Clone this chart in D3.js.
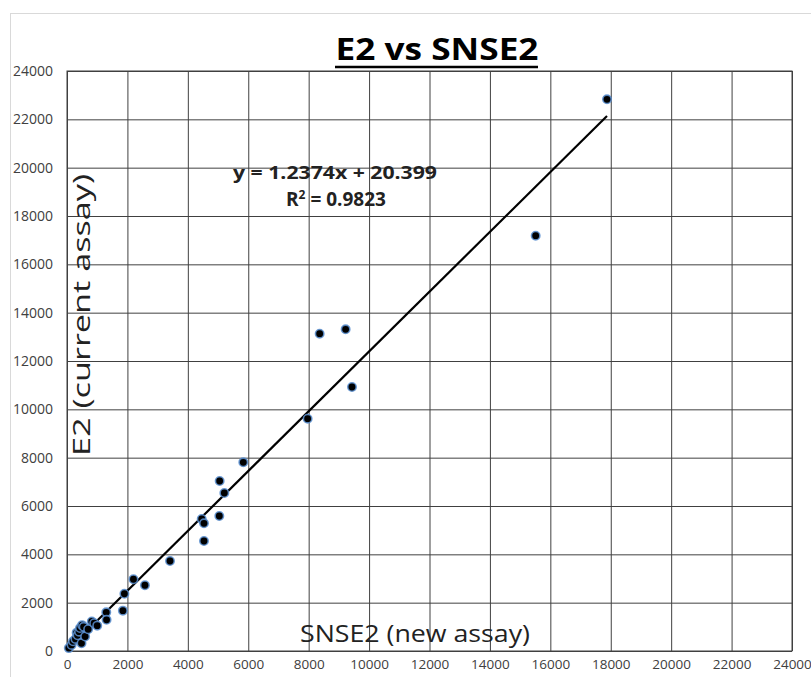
<!DOCTYPE html>
<html><head><meta charset="utf-8">
<script src="https://cdn.jsdelivr.net/npm/d3@7"></script>
<style>body{margin:0;background:#fff}svg{display:block}</style>
</head><body>
<script>
const snse2 = [60,150,200,280,320,350,400,430,480,500,550,600,700,820,900,1000,1300,1310,1850,1900,2200,2580,3410,4460,4535,4535,5042,5054,5208,5836,7966,8364,9224,9434,15515,17876];
const e2    = [120,250,400,500,760,650,800,950,320,1070,1000,600,900,1220,1150,1050,1600,1290,1670,2370,2970,2720,3724,5462,5284,4552,5586,7034,6538,7809,9612,13131,13311,10924,17185,22829];
const xTicks = [0,2000,4000,6000,8000,10000,12000,14000,16000,18000,20000,22000,24000];
const yTicks = [0,2000,4000,6000,8000,10000,12000,14000,16000,18000,20000,22000,24000];
const slope = 1.2374, intercept = 20.399;
const titleText = "E2 vs SNSE2";
const xTitle = "SNSE2 (new assay)";
const yTitle = "E2 (current assay)";
const eqText = "y = 1.2374x + 20.399";

const W = 811, H = 677;
const m = {left:67, top:71, right:19, bottom:26};
const svg = d3.select("body").append("svg").attr("width",W).attr("height",H);
svg.append("rect").attr("x",10.5).attr("y",13.5).attr("width",W).attr("height",H)
  .attr("fill","#fff").attr("stroke","#d9d9d9");

const x = d3.scaleLinear().domain([0,24000]).range([m.left, W-m.right]);
const y = d3.scaleLinear().domain([0,24000]).range([H-m.bottom, m.top]);
const font = "'Open Sans', sans-serif";

// grid
svg.append("g").attr("transform",`translate(0,${H-m.bottom})`)
  .call(d3.axisBottom(x).tickValues(xTicks).tickSize(-(H-m.bottom-m.top)).tickFormat(d3.format("d")).tickPadding(8))
  .call(g=>{g.select(".domain").remove();
    g.selectAll(".tick line").attr("stroke","#404040");
    g.selectAll(".tick text").attr("font-family",font).attr("font-size",13.5).attr("fill","#404040");});
svg.append("g").attr("transform",`translate(${m.left},0)`)
  .call(d3.axisLeft(y).tickValues(yTicks).tickSize(-(W-m.right-m.left)).tickFormat(d3.format("d")).tickPadding(14))
  .call(g=>{g.select(".domain").remove();
    g.selectAll(".tick line").attr("stroke","#404040");
    g.selectAll(".tick text").attr("font-family",font).attr("font-size",14).attr("fill","#404040");});
svg.append("rect").attr("x",x(0)).attr("y",y(24000)).attr("width",x(24000)-x(0)).attr("height",y(0)-y(24000))
  .attr("fill","none").attr("stroke","#404040");

// trendline
const xmin = d3.min(snse2), xmax = d3.max(snse2);
svg.append("line").attr("x1",x(xmin)).attr("y1",y(slope*xmin+intercept))
  .attr("x2",x(xmax)).attr("y2",y(slope*xmax+intercept))
  .attr("stroke","#000").attr("stroke-width",2.2);

// points
svg.append("g").selectAll("circle").data(snse2.map((v,i)=>[v,e2[i]])).join("circle")
  .attr("cx",d=>x(d[0])).attr("cy",d=>y(d[1])).attr("r",4.2)
  .attr("fill","#000").attr("stroke","#5b8fd0").attr("stroke-width",1.6).attr("stroke-opacity",0.85);

// title
svg.append("text").attr("x",437).attr("y",60).attr("text-anchor","middle")
  .attr("font-family",font).attr("font-weight","bold").attr("font-size",30)
  .attr("textLength",203).attr("lengthAdjust","spacingAndGlyphs").text(titleText);
svg.append("line").attr("x1",335).attr("x2",538).attr("y1",67).attr("y2",67).attr("stroke","#000").attr("stroke-width",2.5);

// equation
svg.append("text").attr("x",335).attr("y",179).attr("text-anchor","middle")
  .attr("font-family",font).attr("font-weight","bold").attr("font-size",17).attr("fill","#222")
  .attr("textLength",204).attr("lengthAdjust","spacingAndGlyphs").text(eqText);
const r2 = svg.append("text").attr("x",336).attr("y",206).attr("text-anchor","middle")
  .attr("font-family",font).attr("font-weight","bold").attr("font-size",19).attr("fill","#222");
r2.append("tspan").text("R");
r2.append("tspan").attr("dy",-7).attr("font-size",12).text("2");
r2.append("tspan").attr("dy",7).text(" = 0.9823");

// axis titles
svg.append("text").attr("x",415).attr("y",642).attr("text-anchor","middle")
  .attr("font-family",font).attr("font-size",24).attr("fill","#222")
  .attr("textLength",230).attr("lengthAdjust","spacingAndGlyphs").text(xTitle);
svg.append("text").attr("transform","translate(90,315) rotate(-90)").attr("text-anchor","middle")
  .attr("font-family",font).attr("font-size",24).attr("fill","#222")
  .attr("textLength",282).attr("lengthAdjust","spacingAndGlyphs").text(yTitle);
</script>
</body></html>
